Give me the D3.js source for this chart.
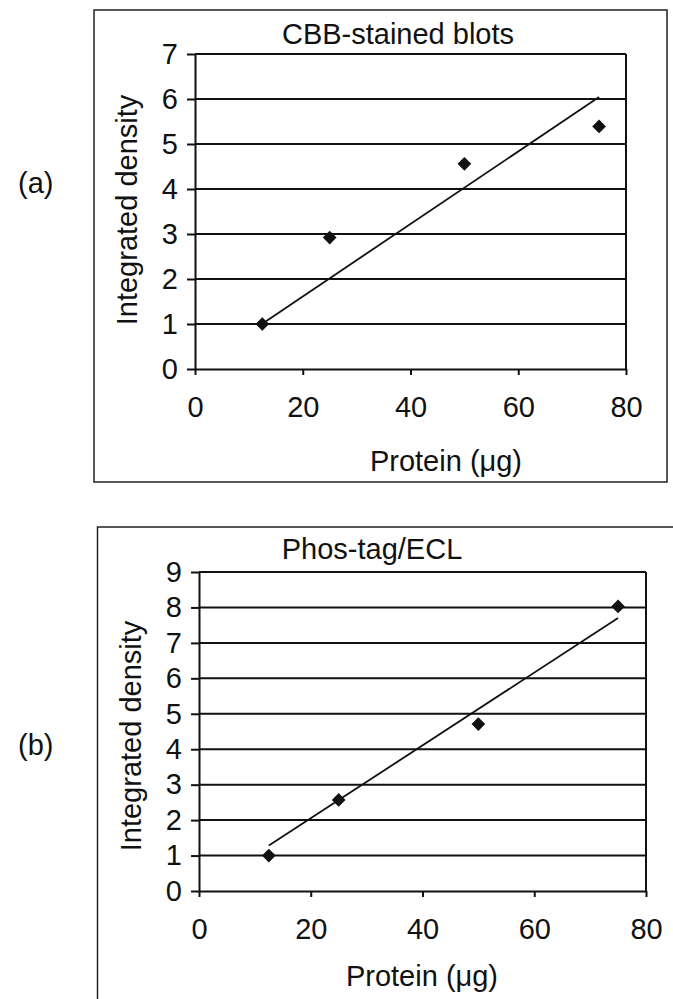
<!DOCTYPE html>
<meta charset='utf-8'>
<title>Integrated density vs protein</title>
<style>
  body {
    margin: 0;
    font-family: 'Liberation Sans', Arial, Helvetica, sans-serif;
    background: #fff;
  }
  svg { display: block; }
  .frame { fill: none; stroke: #222; stroke-width: 1.5px; }
  .grid line { stroke: #111; stroke-width: 2px; }
  .axis path, .axis line { stroke: #111; stroke-width: 2px; }
  .axis text { font-size: 29px; fill: #111; font-family: 'Liberation Sans', Arial, sans-serif; }
  .trend { fill: none; stroke: #111; stroke-width: 1.8px; }
  .label { font-size: 29px; fill: #111; }
</style>
<body>
<script src='https://cdn.jsdelivr.net/npm/d3@7'></script>
<script>

  // data
  var protein = [12.5, 25, 50, 75]
  var cbbDensity = [1.0, 2.92, 4.56, 5.39]
  var phosDensity = [1.0, 2.57, 4.71, 8.03]
  var xTicks = [0, 20, 40, 60, 80]
  var cbbTicks = [0, 1, 2, 3, 4, 5, 6, 7]
  var phosTicks = [0, 1, 2, 3, 4, 5, 6, 7, 8, 9]

  var svg = d3.select('body').append('svg')
    .attr('width', 673)
    .attr('height', 999)

  // least squares fit forced through the origin (Excel "set intercept = 0")
  function slopeThroughOrigin(xs, ys) {
    var sxy = d3.sum(xs, function(x, i) { return x * ys[i] })
    var sxx = d3.sum(xs, function(x) { return x * x })
    return sxy / sxx
  }

  function drawPanel(o) {
    var g = svg.append('g')

    // outer frame
    g.append('rect').attr('class', 'frame')
      .attr('x', o.frame[0]).attr('y', o.frame[1])
      .attr('width', o.frame[2]).attr('height', o.frame[3])

    var x = d3.scaleLinear().domain([0, 80]).range([o.left, o.right])
    var y = d3.scaleLinear().domain([0, d3.max(o.yTicks)]).range([o.bottom, o.top])

    // horizontal gridlines
    g.append('g').attr('class', 'grid')
      .selectAll('line')
      .data(o.yTicks.slice(1))
      .enter().append('line')
      .attr('x1', x(0)).attr('x2', x(80))
      .attr('y1', function(d) { return y(d) })
      .attr('y2', function(d) { return y(d) })

    // right border of plot area
    g.append('g').attr('class', 'grid').append('line')
      .attr('x1', x(80)).attr('x2', x(80))
      .attr('y1', y(d3.max(o.yTicks))).attr('y2', y(0))

    g.append('g').attr('class', 'axis')
      .attr('transform', 'translate(0,' + y(0) + ')')
      .call(d3.axisBottom(x).tickValues(xTicks).tickFormat(d3.format('d'))
        .tickSize(6).tickSizeOuter(0).tickPadding(21))

    g.append('g').attr('class', 'axis')
      .attr('transform', 'translate(' + x(0) + ',0)')
      .call(d3.axisLeft(y).tickValues(o.yTicks).tickFormat(d3.format('d'))
        .tickSize(8).tickSizeOuter(0).tickPadding(9))

    // trend line
    var k = slopeThroughOrigin(protein, o.values)
    var x0 = d3.min(protein), x1 = d3.max(protein)
    g.append('path').attr('class', 'trend')
      .attr('d', d3.line()([[x(x0), y(k * x0)], [x(x1), y(k * x1)]]))

    // points
    g.selectAll('.pt')
      .data(o.values)
      .enter().append('path')
      .attr('class', 'pt')
      .attr('d', d3.symbol().type(d3.symbolDiamond2).size(120))
      .attr('transform', function(d, i) { return 'translate(' + x(protein[i]) + ',' + y(d) + ')' })
      .attr('fill', '#111')

    // texts
    g.append('text').attr('class', 'label')
      .attr('x', o.titlePos[0]).attr('y', o.titlePos[1])
      .attr('text-anchor', 'middle')
      .text(o.title)

    g.append('text').attr('class', 'label')
      .attr('x', o.xTitlePos[0]).attr('y', o.xTitlePos[1])
      .attr('text-anchor', 'middle')
      .text('Protein (μg)')

    g.append('text').attr('class', 'label')
      .attr('transform', 'translate(' + o.yTitlePos[0] + ',' + o.yTitlePos[1] + ') rotate(-90)')
      .attr('text-anchor', 'middle')
      .text('Integrated density')

    g.append('text').attr('class', 'label')
      .attr('x', 18).attr('y', o.tagY)
      .text(o.tag)
  }

  drawPanel({
    values: cbbDensity, yTicks: cbbTicks, title: 'CBB-stained blots', tag: '(a)',
    frame: [94, 10, 573, 472],
    left: 195, right: 626, top: 54, bottom: 369,
    titlePos: [398, 44], xTitlePos: [446, 471], yTitlePos: [137, 210], tagY: 193
  })

  drawPanel({
    values: phosDensity, yTicks: phosTicks, title: 'Phos-tag/ECL', tag: '(b)',
    frame: [97.5, 527, 600, 500],
    left: 199, right: 646, top: 572, bottom: 891,
    titlePos: [372, 559], xTitlePos: [422, 986], yTitlePos: [141, 736], tagY: 755
  })

</script>
</body>
